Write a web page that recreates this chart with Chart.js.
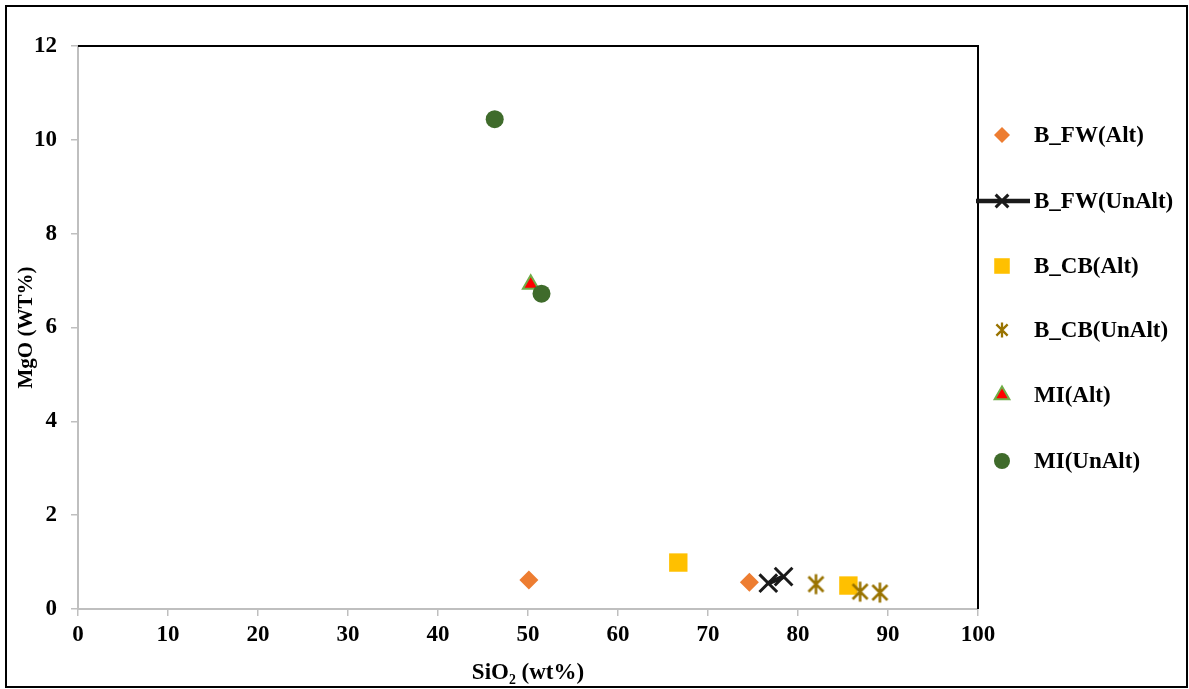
<!DOCTYPE html>
<html>
<head>
<meta charset="utf-8">
<script src="https://cdn.jsdelivr.net/npm/chart.js@4/dist/chart.umd.min.js"></script>
<style>
    html, body { margin: 0; padding: 0; background: #fff; }
    #wrap { width: 1189px; height: 689px; }
</style>
</head>
<body>
<div id="wrap"><canvas id="grafico" width="1189" height="689"></canvas></div>
<script>
// datos (SiO2 vs MgO)
const etiquetas = ['B_FW(Alt)', 'B_FW(UnAlt)', 'B_CB(Alt)', 'B_CB(UnAlt)', 'MI(Alt)', 'MI(UnAlt)'];

const bfwAltX = [50.1, 74.6];
const bfwAltY = [0.62, 0.57];

const bfwUnAltX = [76.7, 78.4];
const bfwUnAltY = [0.55, 0.69];

const bcbAltX = [66.7, 85.6];
const bcbAltY = [0.99, 0.50];

const bcbUnAltX = [82.0, 86.9, 89.1];
const bcbUnAltY = [0.53, 0.37, 0.35];

const miAltX = [50.3];
const miAltY = [6.92];

const miUnAltX = [46.3, 51.5];
const miUnAltY = [10.44, 6.72];

const ticksX = [0, 10, 20, 30, 40, 50, 60, 70, 80, 90, 100];
const ticksY = [0, 2, 4, 6, 8, 10, 12];

const fuente = "'Liberation Serif', 'Times New Roman', serif";

function puntos(xs, ys) {
    return xs.map((x, i) => ({ x: x, y: ys[i] }));
}

// asterisco estilo Excel (vertical + X)
function crearAsterisco(tam, color, grosor) {
    const c = document.createElement('canvas');
    c.width = tam;
    c.height = tam;
    const g = c.getContext('2d');
    g.strokeStyle = color;
    g.lineWidth = grosor;
    const m = tam / 2, r = tam / 2 - 1.5, d = r * 0.75;
    g.beginPath();
    g.moveTo(m, m - r); g.lineTo(m, m + r);
    g.moveTo(m - d, m - d); g.lineTo(m + d, m + d);
    g.moveTo(m + d, m - d); g.lineTo(m - d, m + d);
    g.stroke();
    return c;
}

const asterisco = crearAsterisco(23, '#997300', 2.6);
const asteriscoChico = crearAsterisco(18, '#997300', 2.3);

const datasets = [
    {
        label: etiquetas[0], data: puntos(bfwAltX, bfwAltY),
        pointStyle: 'rectRot', pointRadius: 9.5,
        backgroundColor: '#ED7D31', borderColor: '#ED7D31', pointBorderWidth: 0,
        leyenda: { radius: 8 }
    },
    {
        label: etiquetas[1], data: puntos(bfwUnAltX, bfwUnAltY), showLine: true,
        pointStyle: 'crossRot', pointRadius: 12.5, pointBorderWidth: 3,
        borderColor: '#1a1a1a', backgroundColor: '#1a1a1a', borderWidth: 4.5,
        leyenda: { radius: 9, linea: true }
    },
    {
        label: etiquetas[2], data: puntos(bcbAltX, bcbAltY),
        pointStyle: 'rect', pointRadius: 13,
        backgroundColor: '#FFC000', borderColor: '#FFC000', pointBorderWidth: 0,
        leyenda: { radius: 11 }
    },
    {
        label: etiquetas[3], data: puntos(bcbUnAltX, bcbUnAltY),
        pointStyle: asterisco, pointRadius: 11,
        backgroundColor: '#997300', borderColor: '#997300',
        leyenda: { imagen: asteriscoChico }
    },
    {
        label: etiquetas[4], data: puntos(miAltX, miAltY),
        pointStyle: 'triangle', pointRadius: 9, pointBorderWidth: 2,
        backgroundColor: '#FF0000', borderColor: '#70AD47',
        leyenda: { radius: 8.5 }
    },
    {
        label: etiquetas[5], data: puntos(miUnAltX, miUnAltY),
        pointStyle: 'circle', pointRadius: 9, pointBorderWidth: 0,
        backgroundColor: '#3F6B2B', borderColor: '#3F6B2B',
        leyenda: { radius: 8 }
    }
];

// los ultimos se dibujan encima, como en Excel
datasets.forEach((ds, i) => { ds.order = datasets.length - i; });

const yLeyenda = [135, 201, 266, 330, 395, 461];

const marcos = {
    id: 'marcos',
    afterDraw(chart) {
        const ctx = chart.ctx;
        const area = chart.chartArea;
        ctx.save();
        // borde superior y derecho del area
        ctx.strokeStyle = '#000';
        ctx.lineWidth = 2;
        ctx.beginPath();
        ctx.moveTo(area.left, area.top);
        ctx.lineTo(area.right, area.top);
        ctx.lineTo(area.right, area.bottom);
        ctx.stroke();
        // borde exterior
        ctx.strokeRect(6, 6, 1181, 681);

        // leyenda
        ctx.font = 'bold 23px ' + fuente;
        ctx.textBaseline = 'middle';
        ctx.fillStyle = '#000';
        datasets.forEach((ds, i) => {
            const y = yLeyenda[i];
            const x = 1002;
            if (ds.leyenda.linea) {
                ctx.strokeStyle = ds.borderColor;
                ctx.lineWidth = 4.5;
                ctx.beginPath();
                ctx.moveTo(976, y);
                ctx.lineTo(1030, y);
                ctx.stroke();
            }
            if (ds.leyenda.imagen) {
                const im = ds.leyenda.imagen;
                ctx.drawImage(im, x - im.width / 2, y - im.height / 2);
            } else {
                ctx.fillStyle = ds.backgroundColor;
                ctx.strokeStyle = ds.borderColor;
                ctx.lineWidth = ds.pointBorderWidth;
                Chart.helpers.drawPoint(ctx, {
                    pointStyle: ds.pointStyle,
                    radius: ds.leyenda.radius,
                    rotation: 0,
                    borderWidth: ds.pointBorderWidth
                }, x, y);
            }
            ctx.fillStyle = '#000';
            ctx.fillText(ds.label, 1034, y + 1);
        });
        ctx.restore();
    }
};

const ctx = document.getElementById('grafico').getContext('2d');
new Chart(ctx, {
    type: 'scatter',
    data: { datasets: datasets },
    options: {
        responsive: false,
        animation: false,
        layout: { padding: { top: 46, right: 211, left: 0, bottom: 0 } },
        plugins: {
            legend: { display: false },
            tooltip: { enabled: false }
        },
        scales: {
            x: {
                type: 'linear', min: 0, max: 100,
                afterBuildTicks: (scale) => { scale.ticks = ticksX.map(v => ({ value: v })); },
                afterFit: (scale) => { scale.height = 80; },
                grid: { drawOnChartArea: false, drawTicks: true, tickLength: 7, color: '#BFBFBF', lineWidth: 1.5 },
                border: { color: '#BFBFBF', width: 2 },
                ticks: { color: '#000', padding: 5, font: { family: fuente, size: 23, weight: 'bold' } },
                title: {
                    display: true, text: 'SiO₂ (wt%)', color: '#000',
                    font: { family: fuente, size: 23, weight: 'bold' }, padding: { top: 2, bottom: 2 }
                }
            },
            y: {
                type: 'linear', min: 0, max: 12,
                afterBuildTicks: (scale) => { scale.ticks = ticksY.map(v => ({ value: v })); },
                afterFit: (scale) => { scale.width = 78; },
                grid: { drawOnChartArea: false, drawTicks: true, tickLength: 7, color: '#BFBFBF', lineWidth: 1.5 },
                border: { color: '#BFBFBF', width: 2 },
                ticks: { color: '#000', padding: 14, font: { family: fuente, size: 23, weight: 'bold' } },
                title: {
                    display: true, text: 'MgO (WT%)', color: '#000',
                    font: { family: fuente, size: 21, weight: 'bold' }, padding: { top: 14, bottom: 0 }
                }
            }
        }
    },
    plugins: [marcos]
});
</script>
</body>
</html>
